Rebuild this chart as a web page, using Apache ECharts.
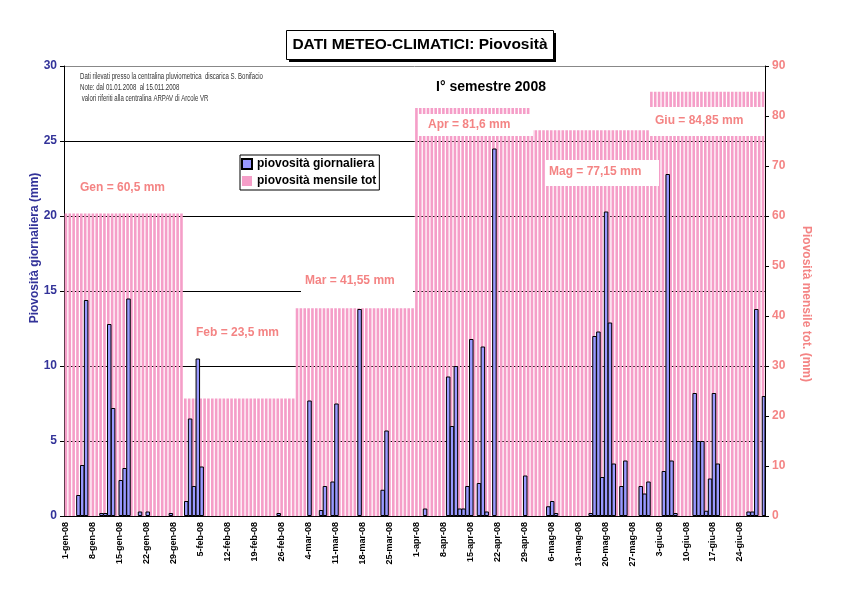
<!DOCTYPE html>
<html><head><meta charset="utf-8">
<script src="https://cdn.jsdelivr.net/npm/echarts@6/dist/echarts.min.js"></script>
<style>html,body{margin:0;padding:0;background:#fff}#c{width:842px;height:595px}</style>
</head><body><div id="c"></div>
<script>
// ---- data ----
const monthNames = ['gen','feb','mar','apr','mag','giu'];
const monthLabels = ['Gen','Feb','Mar','Apr','Mag','Giu'];
const daysInMonth = [31,29,31,30,31,30];
const monthTotals = [60.5, 23.5, 41.55, 81.6, 77.15, 84.85];
const rainGen = [0,0,0,1.4,3.4,14.4,0,0,0,0.2,0.2,12.8,7.2,0,2.4,3.2,14.5,0,0,0.3,0,0.3,0,0,0,0,0,0.2,0,0,0];
const rainFeb = [1.0,6.5,2.0,10.5,3.3,0,0,0,0,0,0,0,0,0,0,0,0,0,0,0,0,0,0,0,0.2,0,0,0,0];
const rainMar = [0,0,0,7.7,0,0,0.4,2.0,0,2.3,7.5,0,0,0,0,0,13.8,0,0,0,0,0,1.75,5.7,0,0,0,0,0,0,0];
const rainApr = [0,0,0.5,0,0,0,0,0,9.3,6.0,10.0,0.5,0.5,2.0,11.8,0,2.2,11.3,0.3,0,24.5,0,0,0,0,0,0,0,2.7,0];
const rainMag = [0,0,0,0,0.65,1.0,0.2,0,0,0,0,0,0,0,0,0.2,12.0,12.3,2.6,20.3,12.9,3.5,0,2.0,3.7,0,0,0,2.0,1.5,2.3];
const rainGiu = [0,0,0,3.0,22.8,3.7,0.2,0,0,0,0,8.2,5.0,5.0,0.35,2.5,8.2,3.5,0,0,0,0,0,0,0,0.3,0.3,13.8,0,8.0];
const leftTicks = {min:0, max:30, step:5};
const rightTicks = {min:0, max:90, step:10};

// ---- build ----
const daily = [rainGen, rainFeb, rainMar, rainApr, rainMag, rainGiu];
const categories = [], dailyData = [], monthlyData = [];
monthNames.forEach((m, k) => {
  for (let d = 1; d <= daysInMonth[k]; d++) {
    categories.push(d + '-' + m + '-08');
    const v = daily[k][d - 1];
    dailyData.push(v ? v : null);
    monthlyData.push(monthTotals[k]);
  }
});
const FONT = 'Arial, "Liberation Sans", Helvetica, sans-serif';
const salmon = '#f48484';
const fmt = v => String(v).replace('.', ',');

// month annotation layout
const monthPos = [
  {x:80, y:188, box:null},
  {x:196, y:333, box:null},
  {x:305, y:281, box:[301,270,112,23]},
  {x:428, y:125, box:[418,114,115,22]},
  {x:549, y:172, box:[545,160,114,26]},
  {x:655, y:121, box:[650,107,114,29]}
];
const graphics = [];
monthPos.forEach((p, k) => {
  if (p.box) graphics.push({type:'rect', z:10, shape:{x:p.box[0], y:p.box[1], width:p.box[2], height:p.box[3]}, style:{fill:'#fff'}});
  graphics.push({type:'text', z:11, x:p.x, y:p.y, style:{text: monthLabels[k] + ' = ' + fmt(monthTotals[k]) + ' mm', fontFamily:FONT, fontSize:12, fontWeight:'bold', fill:salmon, align:'left', verticalAlign:'middle'}});
});
// title
graphics.push({type:'rect', z:10, shape:{x:289, y:33, width:267, height:29}, style:{fill:'#000'}});
graphics.push({type:'rect', z:11, shape:{x:286.5, y:30.5, width:267, height:29}, style:{fill:'#fff', stroke:'#000', lineWidth:1}});
graphics.push({type:'text', z:12, x:420, y:45, style:{text:'DATI METEO-CLIMATICI: Piovosità', fontFamily:FONT, fontSize:15.5, fontWeight:'bold', fill:'#000', align:'center', verticalAlign:'middle'}});
graphics.push({type:'text', z:12, x:491, y:87, style:{text:'I° semestre 2008', fontFamily:FONT, fontSize:14, fontWeight:'bold', fill:'#000', align:'center', verticalAlign:'middle'}});
// notes
['Dati rilevati presso la centralina pluviometrica  discarica S. Bonifacio',
 'Note: dal 01.01.2008  al 15.011.2008',
 ' valori riferiti alla centralina ARPAV di Arcole VR'].forEach((t, i) => {
  graphics.push({type:'text', z:12, x:80, y:77 + i*11, scaleX:0.713, style:{text:t, fontFamily:FONT, fontSize:8.5, fill:'#333', align:'left', verticalAlign:'middle'}});
});
// axis names
graphics.push({type:'text', z:12, x:35, y:248, rotation:Math.PI/2, style:{text:'Piovosità giornaliera (mm)', fontFamily:FONT, fontSize:12, fontWeight:'bold', fill:'#333399', align:'center', verticalAlign:'middle'}});
graphics.push({type:'text', z:12, x:806, y:304, rotation:-Math.PI/2, style:{text:'Piovosità mensile tot. (mm)', fontFamily:FONT, fontSize:12, fontWeight:'bold', fill:salmon, align:'center', verticalAlign:'middle'}});

const chart = echarts.init(document.getElementById('c'), null, {renderer:'canvas'});
chart.setOption({
  animation:false,
  backgroundColor:'#fff',
  textStyle:{fontFamily:FONT},
  grid:{left:64, right:77, top:66, bottom:79, containLabel:false},
  legend:{
    left:240, top:155, orient:'vertical', itemWidth:10, itemHeight:10, itemGap:5,
    padding:[3,3,3,1], borderColor:'#000', borderWidth:1, backgroundColor:'#fff',
    textStyle:{fontFamily:FONT, fontWeight:'bold', fontSize:12, color:'#000'},
    data:[{name:'piovosità giornaliera', icon:'rect'}, {name:'piovosità mensile tot', icon:'rect'}]
  },
  xAxis:{
    type:'category', data:categories, boundaryGap:true,
    axisLine:{lineStyle:{color:'#000', width:1}},
    axisTick:{interval:6, alignWithLabel:true, length:4, lineStyle:{color:'#000'}},
    axisLabel:{interval:6, rotate:90, fontSize:9, fontWeight:'bold', color:'#000', margin:6, fontFamily:FONT}
  },
  yAxis:[
    {type:'value', min:leftTicks.min, max:leftTicks.max, interval:leftTicks.step, position:'left',
     axisLine:{show:true, lineStyle:{color:'#000'}},
     axisTick:{show:true, length:4, lineStyle:{color:'#000'}},
     axisLabel:{color:'#333399', fontWeight:'bold', fontSize:12, margin:7, fontFamily:FONT},
     splitLine:{show:true, lineStyle:{color:['#000','#000','#000','#000','#000','#000','#888'], width:1}}},
    {type:'value', min:rightTicks.min, max:rightTicks.max, interval:rightTicks.step, position:'right',
     axisLine:{show:true, lineStyle:{color:'#000'}},
     axisTick:{show:true, length:4, lineStyle:{color:'#000'}},
     axisLabel:{color:salmon, fontWeight:'bold', fontSize:12, margin:7, fontFamily:FONT},
     splitLine:{show:false}}
  ],
  series:[
    {name:'piovosità giornaliera', type:'bar', yAxisIndex:0, data:dailyData, barWidth:4.5, barGap:'-100%',
     itemStyle:{color:'#9999ff', borderColor:'#000', borderWidth:1}, z:3},
    {name:'piovosità mensile tot', type:'bar', yAxisIndex:1, data:monthlyData, barWidth:'68%', barGap:'-100%',
     itemStyle:{color:'#f59ec8'}, z:2}
  ],
  graphic:graphics
});
</script></body></html>
